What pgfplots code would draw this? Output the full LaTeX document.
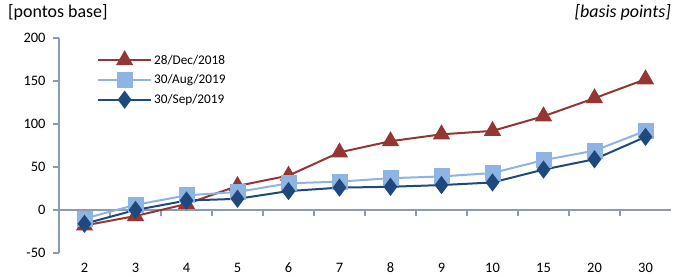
\documentclass[border=0pt]{standalone}
\usepackage{fontspec}
\setmainfont{Carlito}
\usepackage{pgfplots}
\pgfplotsset{compat=1.18}
\definecolor{cred}{HTML}{943634}
\definecolor{clight}{HTML}{8DB4E2}
\definecolor{cdark}{HTML}{1F497D}
\definecolor{axc}{HTML}{8C9BB5}
\begin{document}
\begin{tikzpicture}
\path[use as bounding box] (0,0) rectangle (673bp,277bp);
\node[anchor=base west, inner sep=0pt, font=\fontsize{18}{20}\selectfont] at (8bp,259bp) {[pontos base]};
\node[anchor=base east, inner sep=0pt, font=\fontsize{18}{20}\selectfont\itshape] at (671bp,259bp) {[basis points]};
\begin{axis}[
  at={(59bp,24bp)}, anchor=south west,
  scale only axis, width=612bp, height=215bp,
  xmin=-0.5, xmax=11.5, ymin=-50, ymax=200,
  clip=false,
  axis lines=left,
  x axis line style={draw=none},
  y axis line style={-, draw=axc, line width=1.5bp},
  xtick={0,...,11},
  xticklabels={2,3,4,5,6,7,8,9,10,15,20,30},
  xtick style={draw=none},
  xticklabel style={anchor=base, inner sep=0pt, yshift=-13bp},
  ytick={-50,0,50,100,150,200},
  yticklabels={-50,0,50,100,150,200},
  ytick style={draw=axc, line width=1.5bp},
  tick align=outside,
  major tick length=6bp,
  ticklabel style={font=\fontsize{14.5}{16}\selectfont, text=black},
  yticklabel style={xshift=-4bp},
  legend style={at={(0.062,0.935)}, anchor=north west, draw=none, fill=none,
    font=\fontsize{13.3}{15}\selectfont, row sep=5bp, inner sep=0pt},
  legend cell align=left,
  legend image code/.code={\draw[mark repeat=2, mark phase=2] plot coordinates {(0bp,0bp) (26.5bp,0bp) (53bp,0bp)};},
]
\draw[axc, line width=1.5bp] (axis cs:-0.5,0) -- (axis cs:11.5,0);
\pgfplotsinvokeforeach{0.5,1.5,...,10.5}{\draw[axc, line width=1.5bp] (axis cs:#1,0) -- ([yshift=-6bp]axis cs:#1,0);}
\addplot[cred, line width=2bp, mark=triangle*, mark size=8bp, mark options={solid}] coordinates {
(0,-18) (1,-7) (2,7) (3,28) (4,40) (5,67) (6,80) (7,88) (8,92) (9,109) (10,130) (11,152)};
\addlegendentry{28/Dec/2018}
\addplot[clight, line width=2bp, mark=square*, mark size=7bp, mark options={solid}] coordinates {
(0,-10) (1,6) (2,17) (3,21) (4,31) (5,33) (6,37) (7,39) (8,43) (9,58) (10,69) (11,92)};
\addlegendentry{30/Aug/2019}
\addplot[cdark, line width=2bp, mark=diamond*, mark size=7.5bp, mark options={solid}] coordinates {
(0,-16) (1,0) (2,11) (3,13) (4,22) (5,26) (6,27) (7,29) (8,32) (9,47) (10,59) (11,85)};
\addlegendentry{30/Sep/2019}
\end{axis}
\end{tikzpicture}
\end{document}
